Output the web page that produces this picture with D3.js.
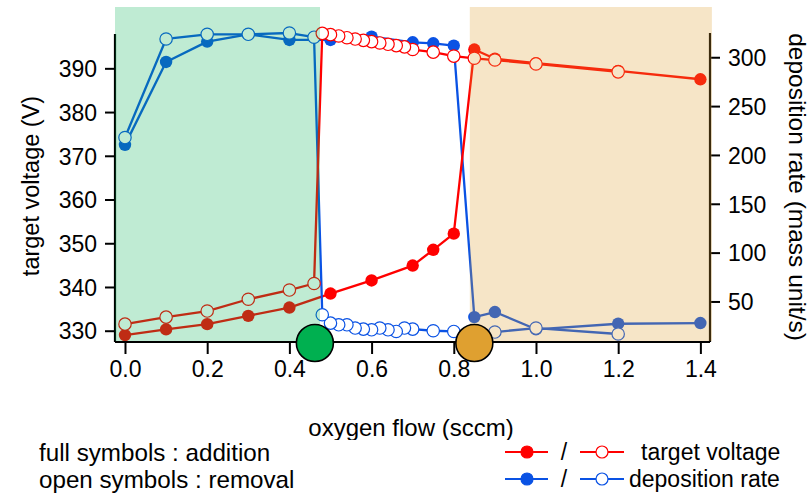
<!DOCTYPE html>
<html>
<head>
<meta charset="utf-8">
<script src="https://cdn.jsdelivr.net/npm/d3@7"></script>
<style>
  html, body { margin: 0; padding: 0; background: #fff; }
  svg { display: block; font-family: "Liberation Sans", Arial, Helvetica, sans-serif; }
</style>
</head>
<body>
<svg id="chart" width="810" height="493"></svg>
<script>
// Oxygen flow steps while adding oxygen (full symbols)
const flowAdd = [0, 0.1, 0.2, 0.3, 0.4, 0.5, 0.6, 0.7, 0.75, 0.8, 0.85, 0.9, 1.0, 1.2, 1.4];
const voltageAdd = [329.0, 330.3, 331.5, 333.4, 335.3, 338.5, 341.5, 344.9, 348.5, 352.2, 394.3, 392.2, 391.2, 389.4, 387.5];
const rateAdd = [210.3, 295.2, 316.0, 323.5, 317.7, 317.7, 321.0, 315.3, 314.3, 311.9, 34.0, 39.2, 21.5, 27.2, 27.9];

// Oxygen flow steps while removing oxygen (open symbols)
const flowRem = [1.2, 1.0, 0.9, 0.85, 0.8, 0.75, 0.70, 0.68, 0.66, 0.64, 0.62, 0.60, 0.58, 0.56, 0.54, 0.52, 0.50, 0.48, 0.46, 0.4, 0.3, 0.2, 0.1, 0.0];
const voltageRem = [389.2, 391.0, 391.9, 392.3, 392.8, 393.7, 394.3, 394.9, 395.2, 395.5, 395.8, 396.1, 396.4, 396.7, 397.0, 397.4, 397.7, 398.0, 340.8, 339.3, 337.2, 334.5, 333.1, 331.5];
const rateRem = [16.7, 22.8, 18.7, 20.0, 19.3, 20.0, 21.7, 22.8, 19.3, 21.0, 22.8, 21.0, 21.7, 22.8, 26.1, 26.1, 27.8, 36.4, 320.5, 324.8, 323.5, 323.5, 318.7, 217.8];

// Axis ticks
const flowTicks = [0, 0.2, 0.4, 0.6, 0.8, 1.0, 1.2, 1.4];
const voltageTicks = [330, 340, 350, 360, 370, 380, 390];
const rateTicks = [50, 100, 150, 200, 250, 300];

// Shaded regimes (oxygen flow ranges) and transition points
const regimeFlows = [[-0.0243, 0.4745], [0.839, 1.428]];
const regimeColors = ["#00b050", "#dca030"];
const transitionFlows = [0.462, 0.85];
const transitionColors = ["#00b050", "#dfa030"];

const RED = "#ff0000", BLUE = "#0a52e4";
const FONT = 23;

const svg = d3.select("#chart");

const x = d3.scaleLinear().domain([-0.0243, 1.4234]).range([115, 710]);
const yV = d3.scaleLinear().domain([327.42, 397.85]).range([342, 34]);
const yR = d3.scaleLinear().domain([8.5, 323.8]).range([342, 34]);

const zip = (xs, ys) => xs.map((v, i) => [v, ys[i]]);

function series(data, yScale, color, open) {
  const g = svg.append("g");
  g.append("path")
    .datum(data)
    .attr("fill", "none")
    .attr("stroke", color)
    .attr("stroke-width", 2.3)
    .attr("stroke-linejoin", "round")
    .attr("d", d3.line().x(d => x(d[0])).y(d => yScale(d[1])));
  g.selectAll("circle")
    .data(data)
    .join("circle")
    .attr("cx", d => x(d[0]))
    .attr("cy", d => yScale(d[1]))
    .attr("r", open ? 6.2 : 6.2)
    .attr("fill", open ? "#fff" : color)
    .attr("stroke", color)
    .attr("stroke-width", open ? 1.2 : 0);
}

series(zip(flowAdd, rateAdd), yR, BLUE, false);
series(zip(flowAdd, voltageAdd), yV, RED, false);
series(zip(flowRem, rateRem), yR, BLUE, true);
series(zip(flowRem, voltageRem), yV, RED, true);

// Axes
const xAxis = d3.axisBottom(x).tickValues(flowTicks).tickSize(12).tickFormat(d3.format(".1f"));
const gx = svg.append("g").attr("transform", "translate(0,342)").call(xAxis);
gx.select(".domain").attr("d", "M115,0H710").attr("stroke-width", 2.2);
gx.selectAll(".tick line").attr("stroke-width", 2);
gx.selectAll(".tick text").attr("y", 19).attr("dy", "0.71em").attr("font-size", FONT).attr("font-family", null).attr("fill", "#000");

const yAxisL = d3.axisLeft(yV).tickValues(voltageTicks).tickSize(10).tickFormat(d3.format("d"));
const gl = svg.append("g").attr("transform", "translate(115,0)").call(yAxisL);
gl.select(".domain").attr("d", "M0,34V342").attr("stroke-width", 2.2);
gl.selectAll(".tick line").attr("stroke-width", 2);
gl.selectAll(".tick text").attr("x", -18).attr("dy", "0.36em").attr("font-size", FONT).attr("font-family", null).attr("fill", "#000");

const yAxisR = d3.axisRight(yR).tickValues(rateTicks).tickSize(10).tickFormat(d3.format("d"));
const gr = svg.append("g").attr("transform", "translate(710,0)").call(yAxisR);
gr.select(".domain").attr("d", "M0,33V342").attr("stroke-width", 2.2);
gr.selectAll(".tick line").attr("stroke-width", 2);
gr.selectAll(".tick text").attr("x", 18).attr("dy", "0.36em").attr("font-size", FONT).attr("font-family", null).attr("fill", "#000");

// Translucent regime shading over the plot
svg.append("g").selectAll("rect")
  .data(regimeFlows)
  .join("rect")
  .attr("x", d => x(d[0]))
  .attr("y", 7)
  .attr("width", d => x(d[1]) - x(d[0]))
  .attr("height", 334)
  .attr("fill", (d, i) => regimeColors[i])
  .attr("fill-opacity", (d, i) => i === 0 ? 0.25 : 0.27);

// Transition markers on the flow axis
svg.append("g").selectAll("circle")
  .data(transitionFlows)
  .join("circle")
  .attr("cx", d => x(d))
  .attr("cy", 343)
  .attr("r", 18.5)
  .attr("fill", (d, i) => transitionColors[i])
  .attr("stroke", "#000")
  .attr("stroke-width", 1.6);

// Axis titles
svg.append("text")
  .attr("transform", "translate(39,186) rotate(-90)")
  .attr("text-anchor", "middle")
  .attr("font-size", 23.5)
  .text("target voltage (V)");

svg.append("text")
  .attr("transform", "translate(789,187) rotate(90)")
  .attr("text-anchor", "middle")
  .attr("font-size", 24.5)
  .text("deposition rate (mass unit/s)");

svg.append("text")
  .attr("x", 411)
  .attr("y", 436)
  .attr("text-anchor", "middle")
  .attr("font-size", 24)
  .text("oxygen flow (sccm)");

// Legend panel
const legend = svg.append("g");
legend.append("rect").attr("x", 0).attr("y", 440).attr("width", 810).attr("height", 53).attr("fill", "#fff");

legend.append("text").attr("x", 39).attr("y", 461).attr("font-size", 24.2).text("full symbols : addition");
legend.append("text").attr("x", 39).attr("y", 488).attr("font-size", 24.2).text("open symbols : removal");

const legendRows = [
  { color: RED, label: "target voltage", y: 452, tx: 641 },
  { color: BLUE, label: "deposition rate", y: 479, tx: 629 }
];
legendRows.forEach(row => {
  const g = legend.append("g");
  [[505, 548, 527, false], [580, 624, 602, true]].forEach(([x0, x1, cx, open]) => {
    g.append("line").attr("x1", x0).attr("x2", x1).attr("y1", row.y).attr("y2", row.y)
      .attr("stroke", row.color).attr("stroke-width", 2.2);
    g.append("circle").attr("cx", cx).attr("cy", row.y).attr("r", 6)
      .attr("fill", open ? "#fff" : row.color).attr("stroke", row.color).attr("stroke-width", 1.2);
  });
  g.append("text").attr("x", 564).attr("y", row.y + 8).attr("text-anchor", "middle").attr("font-size", FONT).text("/");
  g.append("text").attr("x", row.tx).attr("y", row.y + 8).attr("font-size", FONT).text(row.label);
});
</script>
</body>
</html>
